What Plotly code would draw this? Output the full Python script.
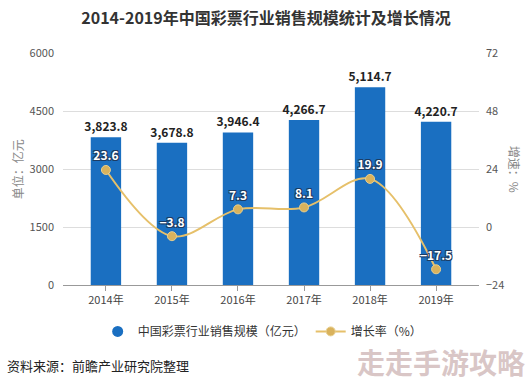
import plotly.graph_objects as go

years = ["2014年", "2015年", "2016年", "2017年", "2018年", "2019年"]
sales = [3823.8, 3678.8, 3946.4, 4266.7, 5114.7, 4220.7]
growth = [23.6, -3.8, 7.3, 8.1, 19.9, -17.5]
left_ticks = [0, 1500, 3000, 4500, 6000]
right_ticks = [-24, 0, 24, 48, 72]

FONT = "Noto Sans CJK SC"
BAR = "#1a6fc1"
LINE = "#e6c06a"

x = list(range(len(years)))
fig = go.Figure()
fig.add_trace(go.Bar(
    x=x, y=sales, name="中国彩票行业销售规模（亿元）", showlegend=False,
    marker=dict(color=BAR, line=dict(width=0)), width=0.46,
    text=[f"{v:,.1f}" for v in sales], textposition="outside", constraintext="none",
    textfont=dict(family=FONT, size=12, color="#222222", weight="bold"),
    cliponaxis=False,
))
# legend entry for the bars (circle marker as in the reference)
fig.add_trace(go.Scatter(
    x=[None], y=[None], mode="markers", name="中国彩票行业销售规模（亿元）",
    marker=dict(color=BAR, size=11, symbol="circle"),
))
fig.add_trace(go.Scatter(
    x=x, y=growth, name="增长率（%）", yaxis="y2", mode="lines+markers+text",
    line=dict(color=LINE, width=2, shape="spline", smoothing=1.0),
    marker=dict(color="#d9b25c", size=9, line=dict(color="#e8cf8f", width=1)),
    text=[f"{v:g}".replace("-", "−") for v in growth], textposition="top center",
    textfont=dict(family=FONT, size=12, color="white", weight="bold",
                  shadow="-1px -1px 0 #1d3c63, 1px -1px 0 #1d3c63, -1px 1px 0 #1d3c63, 1px 1px 0 #1d3c63"),
    cliponaxis=False,
))

fig.update_layout(
    width=532, height=384,
    margin=dict(l=63, r=53, t=53, b=99, autoexpand=False),
    paper_bgcolor="white", plot_bgcolor="white",
    font=dict(family=FONT, color="#555555", size=11),
    title=dict(text="<b>2014-2019年中国彩票行业销售规模统计及增长情况</b>",
               x=0.5, xanchor="center", y=0.953, yanchor="middle",
               font=dict(family=FONT, size=16, color="#333333")),
    xaxis=dict(tickmode="array", tickvals=x, ticktext=years, range=[-0.65, 5.65],
               showgrid=False, showline=True, linecolor="#999999", linewidth=1,
               ticks="outside", ticklen=5, tickcolor="#999999",
               tickfont=dict(size=11, color="#444444"), zeroline=False),
    yaxis=dict(range=[0, 6000], tickvals=left_ticks, showgrid=True,
               gridcolor="#dddddd", zeroline=False, ticks="", ticklabelstandoff=8,
               tickfont=dict(size=11, color="#555555")),
    yaxis2=dict(range=[-24, 72], tickvals=right_ticks, overlaying="y", side="right",
                showgrid=False, zeroline=False, ticklabelstandoff=6,
                tickfont=dict(size=11, color="#555555")),
    showlegend=True,
    legend=dict(orientation="h", x=0.48, xanchor="center", y=-0.2, yanchor="middle",
                font=dict(size=12, color="#333333"), itemwidth=30,
                traceorder="normal"),
    bargap=0.5,
)

fig.add_annotation(text="单位：亿元", xref="paper", yref="paper", x=-0.11, y=0.5,
                   textangle=-90, showarrow=False, xanchor="center", yanchor="middle",
                   font=dict(size=12, color="#888888"))
fig.add_annotation(text="增速：%", xref="paper", yref="paper", x=1.087, y=0.5,
                   textangle=90, showarrow=False, xanchor="center", yanchor="middle",
                   font=dict(size=12, color="#888888"))
fig.add_annotation(text="资料来源：前瞻产业研究院整理", xref="paper", yref="paper",
                   x=-58/416, y=-0.349, xanchor="left", yanchor="middle", showarrow=False,
                   font=dict(size=13, color="#222222"))
fig.add_annotation(text="<b>走走手游攻略</b>", xref="paper", yref="paper",
                   x=(527 - 63) / 416, y=-0.33, xanchor="right", yanchor="middle", showarrow=False,
                   font=dict(size=28, color="rgba(210,188,188,0.85)"))

fig.write_html("out.html", config={"displayModeBar": False},
               post_script="document.body.style.margin='0';document.body.style.overflow='hidden';")
